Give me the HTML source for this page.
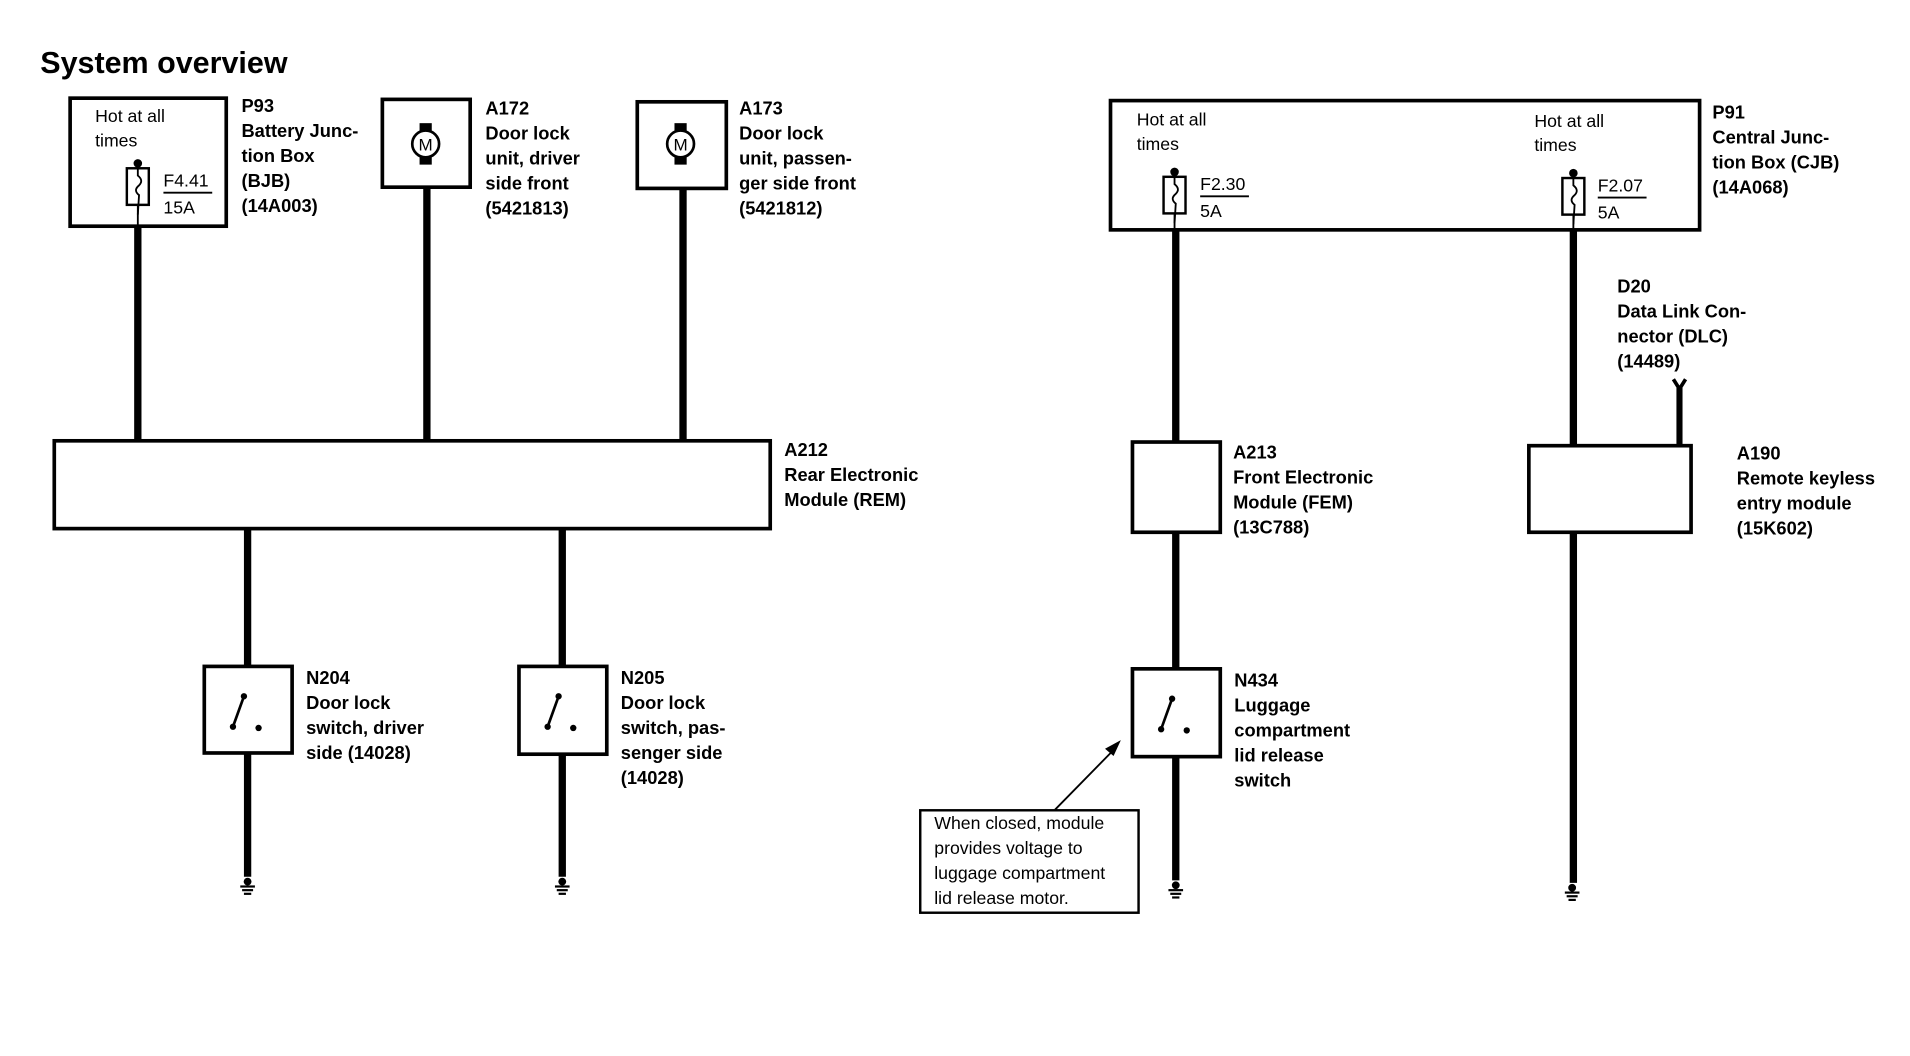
<!DOCTYPE html>
<html><head><meta charset="utf-8"><style>
html,body{margin:0;padding:0;background:#fff;}
svg{display:block;}
text{font-family:"Liberation Sans",Arial,sans-serif;fill:#000;}
.b{font-weight:bold;font-size:15px;}
.n{font-size:14.5px;}
</style></head><body>
<svg width="1910" height="1056" viewBox="0 0 1566 866" preserveAspectRatio="none" xmlns="http://www.w3.org/2000/svg">
<defs>
<g id="gnd"><circle cx="0" cy="4" r="3.2"/><line x1="-6" y1="8" x2="6" y2="8" stroke="#000" stroke-width="1.8"/><line x1="-4.5" y1="11" x2="4.5" y2="11" stroke="#000" stroke-width="1.8"/><line x1="-3" y1="14" x2="3" y2="14" stroke="#000" stroke-width="1.8"/></g>
<g id="motor"><circle cx="0" cy="0" r="11" fill="#fff" stroke="#000" stroke-width="2.2"/><rect x="-5" y="-17" width="10" height="6"/><rect x="-5" y="11" width="10" height="6"/><text x="0" y="5.5" text-anchor="middle" font-size="14">M</text></g>
<g id="sw"><line x1="-11" y1="13" x2="-2" y2="-12" stroke="#000" stroke-width="2.2"/><circle cx="-2" cy="-12" r="2.6"/><circle cx="-11" cy="13" r="2.6"/><circle cx="10" cy="14" r="2.6"/></g>
<g id="fuse"><rect x="-9" y="0" width="18" height="30" fill="#fff" stroke="#000" stroke-width="2"/><path d="M0,-2 L0,6 Q5,10 1,14 Q-4,18 1,22 L0,38" fill="none" stroke="#000" stroke-width="1.5"/><circle cx="0" cy="-4" r="3.5"/></g>
</defs>

<text x="33" y="60" font-weight="bold" font-size="25">System overview</text>

<!-- P93 -->
<rect x="57.5" y="80.5" width="128" height="105" fill="none" stroke="#000" stroke-width="3"/>
<text class="n" x="78" y="100">Hot at all</text>
<text class="n" x="78" y="120">times</text>
<use href="#fuse" x="113" y="138"/>
<line x1="113" y1="168" x2="113" y2="186" stroke="#000" stroke-width="1.5"/>
<text class="n" x="134" y="153">F4.41</text>
<line x1="134" y1="158" x2="174" y2="158" stroke="#000" stroke-width="1.5"/>
<text class="n" x="134" y="175">15A</text>
<text class="b" x="198" y="92">P93</text>
<text class="b" x="198" y="112.5">Battery Junc-</text>
<text class="b" x="198" y="133">tion Box</text>
<text class="b" x="198" y="153.5">(BJB)</text>
<text class="b" x="198" y="174">(14A003)</text>
<line x1="113" y1="186" x2="113" y2="361" stroke="#000" stroke-width="6"/>

<!-- A172 -->
<rect x="313.5" y="81.5" width="72" height="72" fill="none" stroke="#000" stroke-width="3"/>
<use href="#motor" x="349" y="118"/>
<line x1="350" y1="154" x2="350" y2="361" stroke="#000" stroke-width="6"/>
<text class="b" x="398" y="94">A172</text>
<text class="b" x="398" y="114.5">Door lock</text>
<text class="b" x="398" y="135">unit, driver</text>
<text class="b" x="398" y="155.5">side front</text>
<text class="b" x="398" y="176">(5421813)</text>

<!-- A173 -->
<rect x="522.5" y="83.5" width="73" height="71" fill="none" stroke="#000" stroke-width="3"/>
<use href="#motor" x="558" y="118"/>
<line x1="560" y1="155" x2="560" y2="361" stroke="#000" stroke-width="6"/>
<text class="b" x="606" y="94">A173</text>
<text class="b" x="606" y="114.5">Door lock</text>
<text class="b" x="606" y="135">unit, passen-</text>
<text class="b" x="606" y="155.5">ger side front</text>
<text class="b" x="606" y="176">(5421812)</text>

<!-- A212 -->
<rect x="44.5" y="361.5" width="587" height="72" fill="none" stroke="#000" stroke-width="3"/>
<text class="b" x="643" y="374">A212</text>
<text class="b" x="643" y="394.5">Rear Electronic</text>
<text class="b" x="643" y="415">Module (REM)</text>

<!-- N204 -->
<line x1="203" y1="434" x2="203" y2="546" stroke="#000" stroke-width="6"/>
<rect x="167.5" y="546.5" width="72" height="71" fill="none" stroke="#000" stroke-width="3"/>
<use href="#sw" x="202" y="583"/>
<line x1="203" y1="618" x2="203" y2="719" stroke="#000" stroke-width="6"/>
<use href="#gnd" x="203" y="719"/>
<text class="b" x="251" y="561">N204</text>
<text class="b" x="251" y="581.5">Door lock</text>
<text class="b" x="251" y="602">switch, driver</text>
<text class="b" x="251" y="622.5">side (14028)</text>

<!-- N205 -->
<line x1="461" y1="434" x2="461" y2="546" stroke="#000" stroke-width="6"/>
<rect x="425.5" y="546.5" width="72" height="72" fill="none" stroke="#000" stroke-width="3"/>
<use href="#sw" x="460" y="583"/>
<line x1="461" y1="619" x2="461" y2="719" stroke="#000" stroke-width="6"/>
<use href="#gnd" x="461" y="719"/>
<text class="b" x="509" y="561">N205</text>
<text class="b" x="509" y="581.5">Door lock</text>
<text class="b" x="509" y="602">switch, pas-</text>
<text class="b" x="509" y="622.5">senger side</text>
<text class="b" x="509" y="643">(14028)</text>

<!-- P91 -->
<rect x="910.5" y="82.5" width="483" height="106" fill="none" stroke="#000" stroke-width="3"/>
<text class="n" x="932" y="103">Hot at all</text>
<text class="n" x="932" y="123">times</text>
<text class="n" x="1258" y="104">Hot at all</text>
<text class="n" x="1258" y="124">times</text>
<use href="#fuse" x="963" y="145"/>
<line x1="963" y1="175" x2="963" y2="189" stroke="#000" stroke-width="1.5"/>
<text class="n" x="984" y="156">F2.30</text>
<line x1="984" y1="161" x2="1024" y2="161" stroke="#000" stroke-width="1.5"/>
<text class="n" x="984" y="178">5A</text>
<use href="#fuse" x="1290" y="146"/>
<line x1="1290" y1="176" x2="1290" y2="189" stroke="#000" stroke-width="1.5"/>
<text class="n" x="1310" y="157">F2.07</text>
<line x1="1310" y1="162" x2="1350" y2="162" stroke="#000" stroke-width="1.5"/>
<text class="n" x="1310" y="179">5A</text>
<text class="b" x="1404" y="97">P91</text>
<text class="b" x="1404" y="117.5">Central Junc-</text>
<text class="b" x="1404" y="138">tion Box (CJB)</text>
<text class="b" x="1404" y="158.5">(14A068)</text>

<!-- A213 / N434 -->
<line x1="964" y1="189" x2="964" y2="362" stroke="#000" stroke-width="6"/>
<rect x="928.5" y="362.5" width="72" height="74" fill="none" stroke="#000" stroke-width="3"/>
<text class="b" x="1011" y="376">A213</text>
<text class="b" x="1011" y="396.5">Front Electronic</text>
<text class="b" x="1011" y="417">Module (FEM)</text>
<text class="b" x="1011" y="437.5">(13C788)</text>
<line x1="964" y1="437" x2="964" y2="548" stroke="#000" stroke-width="6"/>
<rect x="928.5" y="548.5" width="72" height="72" fill="none" stroke="#000" stroke-width="3"/>
<use href="#sw" x="963" y="585"/>
<line x1="964" y1="621" x2="964" y2="722" stroke="#000" stroke-width="6"/>
<use href="#gnd" x="964" y="722"/>
<text class="b" x="1012" y="563">N434</text>
<text class="b" x="1012" y="583.5">Luggage</text>
<text class="b" x="1012" y="604">compartment</text>
<text class="b" x="1012" y="624.5">lid release</text>
<text class="b" x="1012" y="645">switch</text>

<!-- A190 -->
<line x1="1290" y1="189" x2="1290" y2="365" stroke="#000" stroke-width="6"/>
<rect x="1253.5" y="365.5" width="133" height="71" fill="none" stroke="#000" stroke-width="3"/>
<line x1="1377" y1="318" x2="1377" y2="365" stroke="#000" stroke-width="5"/>
<path d="M1372,311 L1377,319 L1382,311" fill="none" stroke="#000" stroke-width="3"/>
<text class="b" x="1326" y="240">D20</text>
<text class="b" x="1326" y="260.5">Data Link Con-</text>
<text class="b" x="1326" y="281">nector (DLC)</text>
<text class="b" x="1326" y="301.5">(14489)</text>
<text class="b" x="1424" y="377">A190</text>
<text class="b" x="1424" y="397.5">Remote keyless</text>
<text class="b" x="1424" y="418">entry module</text>
<text class="b" x="1424" y="438.5">(15K602)</text>
<line x1="1290" y1="437" x2="1290" y2="724" stroke="#000" stroke-width="6"/>
<use href="#gnd" x="1289" y="724"/>

<!-- Note -->
<rect x="754.5" y="664.5" width="179" height="84" fill="none" stroke="#000" stroke-width="2"/>
<text class="n" x="766" y="680">When closed, module</text>
<text class="n" x="766" y="700.5">provides voltage to</text>
<text class="n" x="766" y="721">luggage compartment</text>
<text class="n" x="766" y="741.5">lid release motor.</text>
<line x1="865" y1="664" x2="914" y2="614" stroke="#000" stroke-width="1.5"/>
<path d="M919,607 L906,614 L913,620 Z" fill="#000"/>
</svg>
</body></html>
